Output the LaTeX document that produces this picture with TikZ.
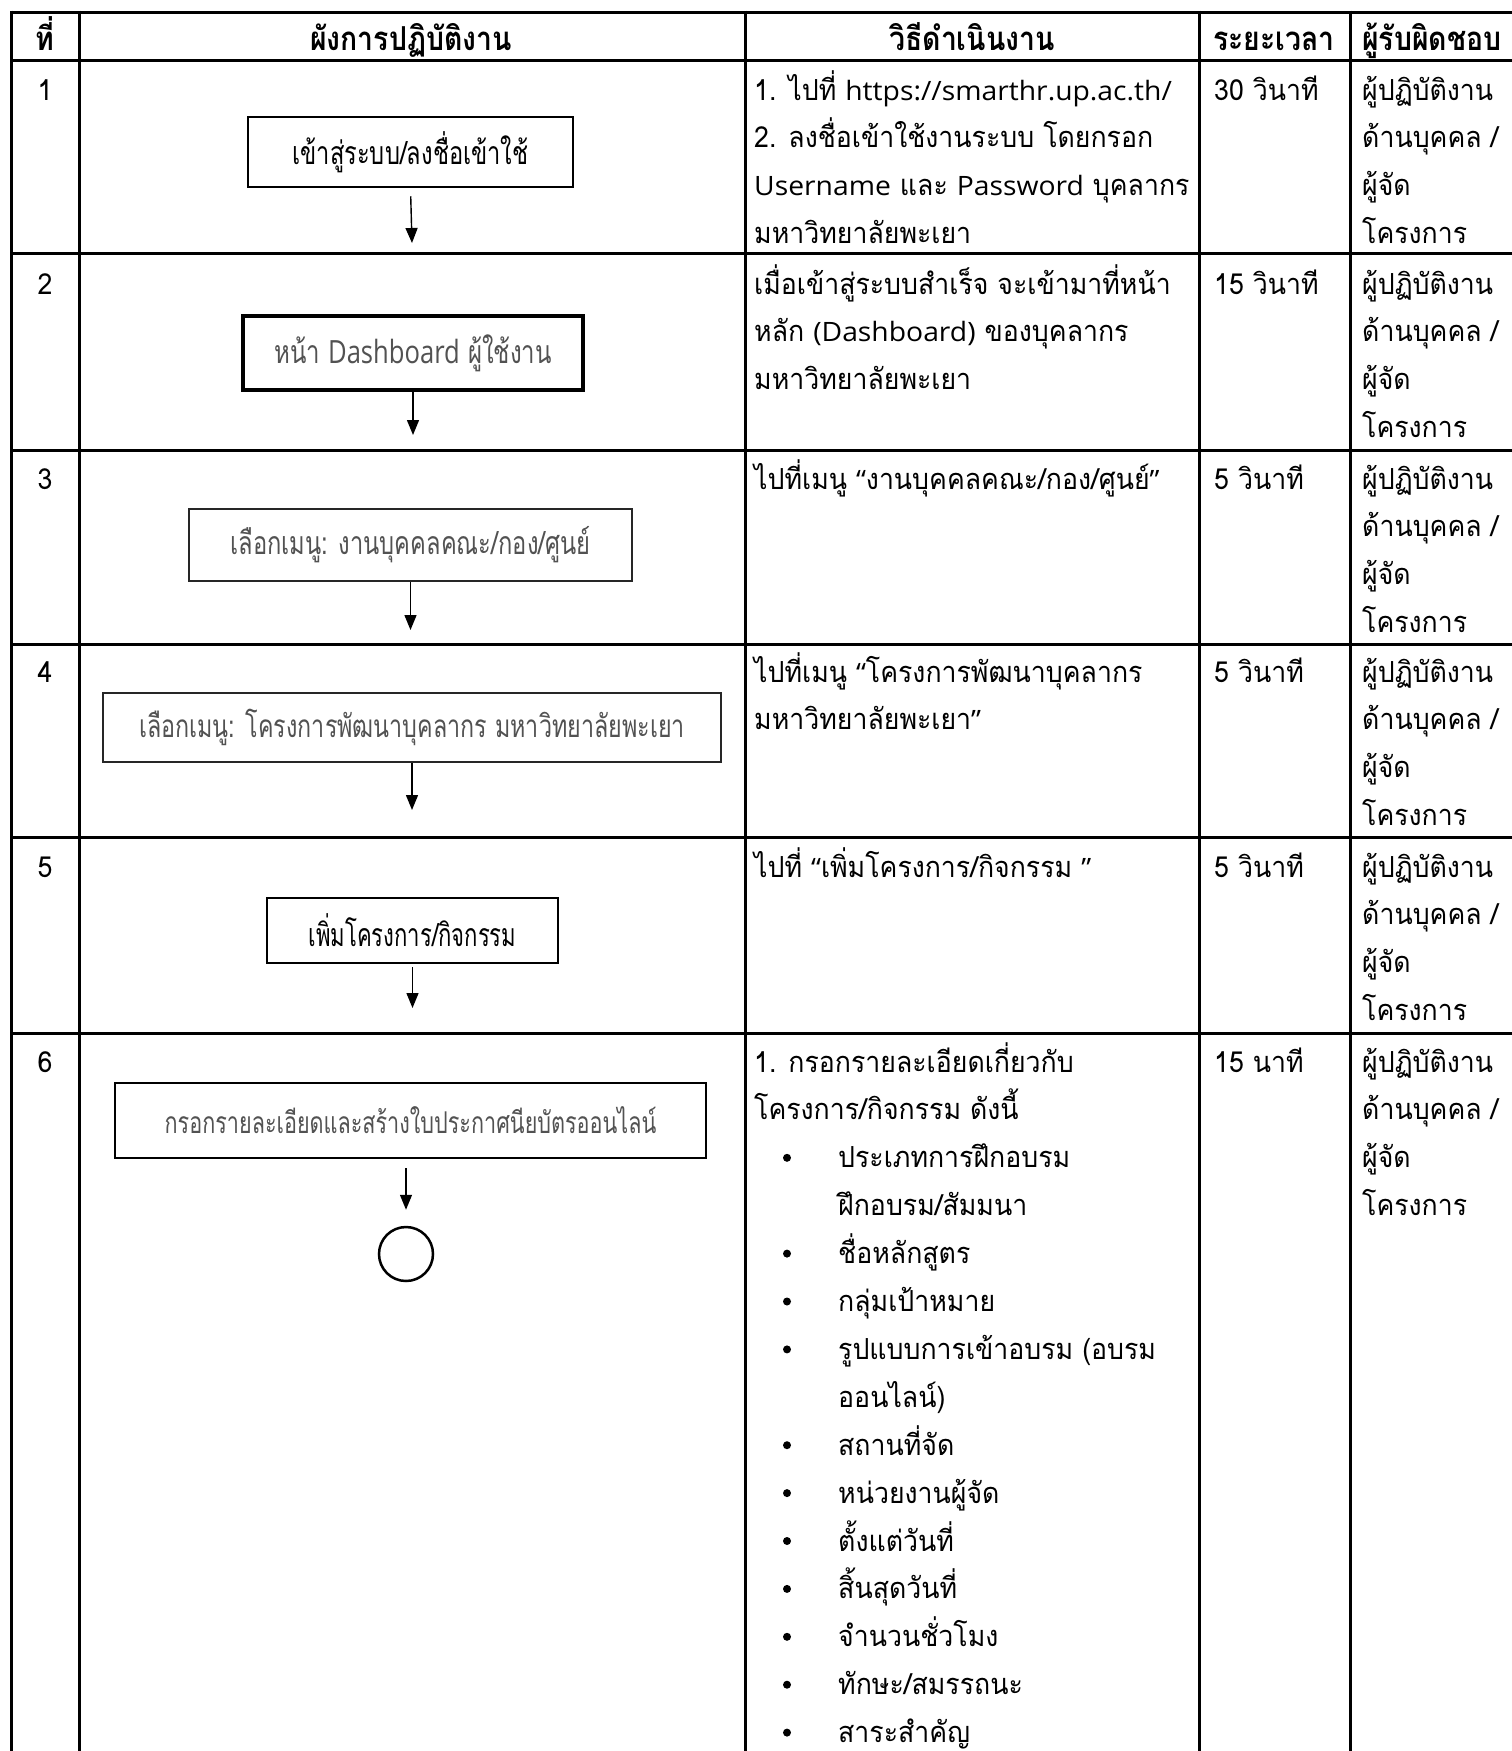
\documentclass[tikz,border=0pt]{standalone}
\usepackage{fontspec}
\usetikzlibrary{arrows.meta}
\newfontfamily\thai[Script=Thai,FakeStretch=0.92]{Loma}
\newfontfamily\thaihead[Script=Thai,FakeStretch=0.86]{Loma}
\newfontfamily\boxA[Script=Thai,FakeStretch=0.74]{Loma}
\newfontfamily\boxB[Script=Thai,FakeStretch=0.75]{Loma}
\newfontfamily\boxC[Script=Thai,FakeStretch=0.69]{Loma}
\newfontfamily\boxD[Script=Thai,FakeStretch=0.72]{Loma}
\newfontfamily\latfont[Scale=0.92,FakeStretch=1.06]{Open Sans}
\newfontfamily\latcond[FakeStretch=0.8]{Open Sans}
\newcommand\lat[1]{{\latfont #1}}
\newcommand\latc[1]{{\latcond #1}}
\newcommand\qopen{\lat{“}}
\newcommand\qclose{\lat{”}}
\newcommand\cellrows[5]{%
  \foreach \t [count=\i from 0] in {#5} {%
    \node[#4, anchor=base west] (#1-\i) at (#2, #3+\i*47.9) {\t};}}
\begin{document}
\begin{tikzpicture}[x=1pt,y=-1pt,
  grid/.style={line width=3pt,black},
  body/.style={inner sep=0pt,font=\thai\fontsize{29}{34}\selectfont},
  head/.style={inner sep=0pt,font=\thaihead\bfseries\fontsize{33}{36}\selectfont},
  num/.style={inner sep=0pt,font=\thai\fontsize{29}{34}\selectfont},
  stepbox/.style={draw,line width=2.5pt,inner sep=0pt,font=\boxA\fontsize{32}{36}\selectfont},
  greytext/.style={text=black!68},
  arr/.style={line width=1.4pt,-{Triangle[length=15pt,width=12pt]}},
  dot/.style={circle,fill=black,inner sep=0pt,minimum size=8pt}]
\useasboundingbox (0,0) rectangle (1512,1751);
\fill[white] (0,0) rectangle (1512,1751);

% ---------- table grid ----------
\foreach \yy in {12,60,253,450,644,837,1033}
  {\draw[grid] (11,\yy) -- (1515,\yy);}
\foreach \xx in {11,79,745,1199,1350}
  {\draw[grid] (\xx,10.5) -- (\xx,1755);}

% ---------- header ----------
\node[head,anchor=base] (h1) at (45,50) {ที่};
\node[head,anchor=base] (h2) at (411,50) {ผังการปฏิบัติงาน};
\node[head,anchor=base] (h3) at (972,50) {วิธีดำเนินงาน};
\node[head,anchor=base] (h4) at (1274,50) {ระยะเวลา};
\node[head,anchor=base west] (h5) at (1362,50) {ผู้รับผิดชอบ};

% ---------- row numbers ----------
\node[num,anchor=base] (n1) at (45,100) {1};
\node[num,anchor=base] (n2) at (45,294) {2};
\node[num,anchor=base] (n3) at (45,489) {3};
\node[num,anchor=base] (n4) at (45,682) {4};
\node[num,anchor=base] (n5) at (45,877) {5};
\node[num,anchor=base] (n6) at (45,1072) {6};

% ---------- flow chart ----------
\node[stepbox,minimum width=325pt,minimum height=70pt] (b1) at (410.5,152) {เข้าสู่ระบบ/ลงชื่อเข้าใช้};
\coordinate (t1) at (412,243);
\draw[arr,shorten <=8pt] (b1.south) -- (t1);

\node[stepbox,greytext,line width=4pt,minimum width=340pt,minimum height=74pt,font=\boxB\fontsize{32}{36}\selectfont] (b2) at (413,353) {หน้า \latc{Dashboard} ผู้ใช้งาน};
\coordinate (t2) at (413,435);
\draw[arr] (b2.south) -- (t2);

\node[stepbox,greytext,draw=black!85,minimum width=443pt,minimum height=72pt] (b3) at (410.5,545) {เลือกเมนู: งานบุคคลคณะ/กอง/ศูนย์};
\coordinate (t3) at (410.5,630);
\draw[arr] (b3.south) -- (t3);

\node[stepbox,greytext,draw=black!85,minimum width=618pt,minimum height=69pt,font=\boxA\fontsize{31.5}{36}\selectfont] (b4) at (412,727.5) {เลือกเมนู: โครงการพัฒนาบุคลากร มหาวิทยาลัยพะเยา};
\coordinate (t4) at (412,810);
\draw[arr] (b4.south) -- (t4);

\node[stepbox,minimum width=291pt,minimum height=65pt,font=\boxC\fontsize{32}{36}\selectfont] (b5) at (412.5,930.5) {เพิ่มโครงการ/กิจกรรม};
\coordinate (t5) at (412.5,1008);
\draw[arr,shorten <=3pt] (b5.south) -- (t5);

\node[stepbox,greytext,line width=2pt,minimum width=591pt,minimum height=75pt,font=\boxD\fontsize{30}{34}\selectfont] (b6) at (410.5,1120.5) {กรอกรายละเอียดและสร้างใบประกาศนียบัตรออนไลน์};
\node[circle,draw,line width=2.5pt,minimum size=54pt,inner sep=0pt] (end) at (406,1254) {};
\draw[arr,shorten <=9pt,shorten >=16pt] (b6.south -| end) -- (end.north);

% ---------- column 3 : procedure ----------
\cellrows{c1}{754}{100}{body}{1. ไปที่ \lat{https://smarthr.up.ac.th/},2. ลงชื่อเข้าใช้งานระบบ โดยกรอก,\lat{Username} และ \lat{Password} บุคลากร,มหาวิทยาลัยพะเยา}
\cellrows{c2}{754}{294}{body}{เมื่อเข้าสู่ระบบสำเร็จ จะเข้ามาที่หน้า,หลัก \lat{(Dashboard)} ของบุคลากร,มหาวิทยาลัยพะเยา}
\cellrows{c3}{754}{489}{body}{ไปที่เมนู \qopen งานบุคคลคณะ/กอง/ศูนย์\qclose}
\cellrows{c4}{754}{682}{body}{ไปที่เมนู \qopen โครงการพัฒนาบุคลากร,มหาวิทยาลัยพะเยา\qclose}
\cellrows{c5}{754}{877}{body}{ไปที่ \qopen เพิ่มโครงการ/กิจกรรม \qclose}
\cellrows{c6}{754}{1072}{body}{1. กรอกรายละเอียดเกี่ยวกับ,โครงการ/กิจกรรม ดังนี้}
\cellrows{d6}{838}{1167.8}{body}{ประเภทการฝึกอบรม,ฝึกอบรม/สัมมนา,ชื่อหลักสูตร,กลุ่มเป้าหมาย,รูปแบบการเข้าอบรม (อบรม,ออนไลน์),สถานที่จัด,หน่วยงานผู้จัด,ตั้งแต่วันที่,สิ้นสุดวันที่,จำนวนชั่วโมง,ทักษะ/สมรรถนะ,สาระสำคัญ}
\foreach \k in {0,2,3,4,6,7,8,9,10,11,12}
  {\node[dot] (bul-\k) at (787,1167.8+\k*47.9-10) {};}

% ---------- column 4 : time ----------
\node[body,anchor=base west] (r1) at (1214,100) {30 วินาที};
\node[body,anchor=base west] (r2) at (1214,294) {15 วินาที};
\node[body,anchor=base west] (r3) at (1214,489) {5 วินาที};
\node[body,anchor=base west] (r4) at (1214,682) {5 วินาที};
\node[body,anchor=base west] (r5) at (1214,877) {5 วินาที};
\node[body,anchor=base west] (r6) at (1214,1072) {15 นาที};

% ---------- column 5 : responsible ----------
\cellrows{p1}{1362}{100}{body}{ผู้ปฏิบัติงาน,ด้านบุคคล /,ผู้จัด,โครงการ}
\cellrows{p2}{1362}{294}{body}{ผู้ปฏิบัติงาน,ด้านบุคคล /,ผู้จัด,โครงการ}
\cellrows{p3}{1362}{489}{body}{ผู้ปฏิบัติงาน,ด้านบุคคล /,ผู้จัด,โครงการ}
\cellrows{p4}{1362}{682}{body}{ผู้ปฏิบัติงาน,ด้านบุคคล /,ผู้จัด,โครงการ}
\cellrows{p5}{1362}{877}{body}{ผู้ปฏิบัติงาน,ด้านบุคคล /,ผู้จัด,โครงการ}
\cellrows{p6}{1362}{1072}{body}{ผู้ปฏิบัติงาน,ด้านบุคคล /,ผู้จัด,โครงการ}
\end{tikzpicture}
\end{document}
